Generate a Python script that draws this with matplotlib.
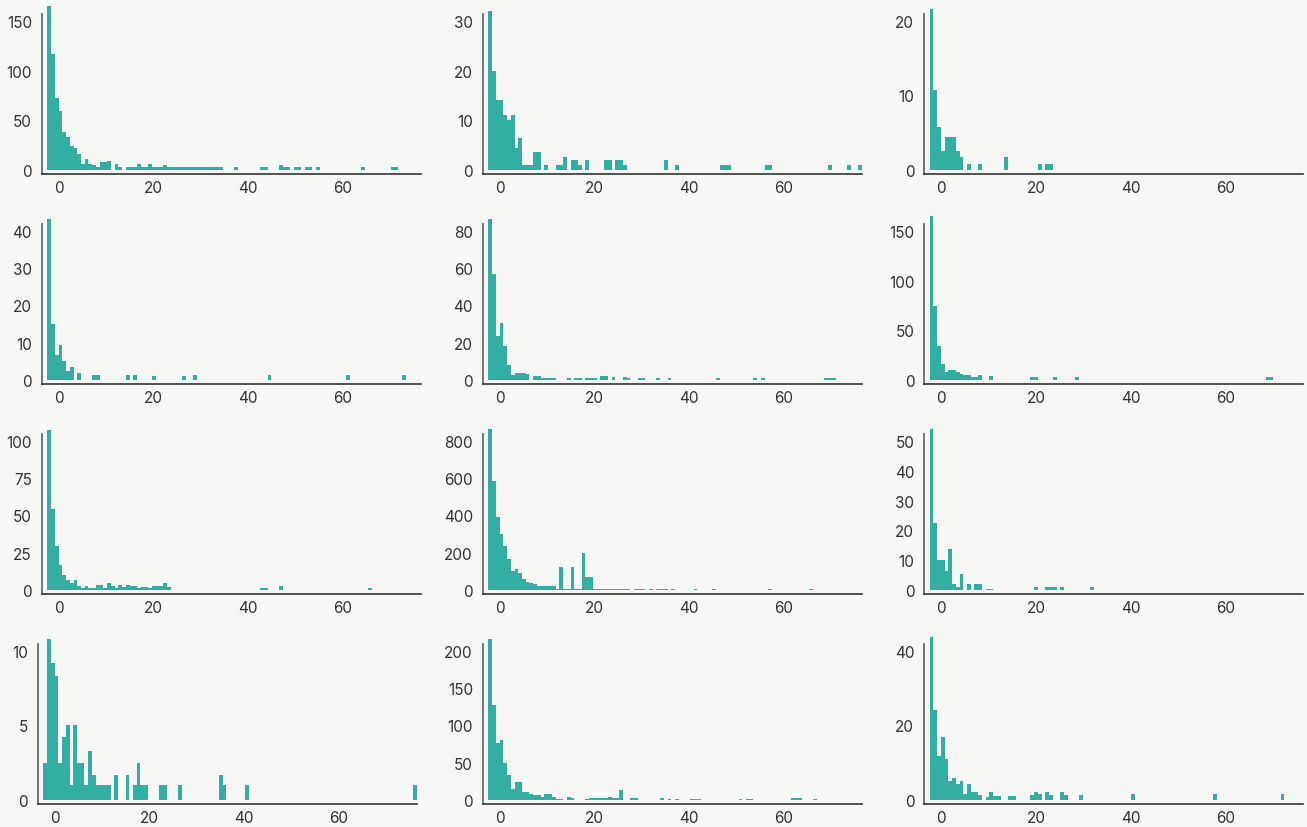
import numpy as np
import matplotlib
matplotlib.use("Agg")
import matplotlib.pyplot as plt

BG = "#f7f7f5"
TEAL = "#33aea3"

# shared histogram bins (100 bins over the pooled range)
edges = np.linspace(-2.45, 76.4, 101)

p1 = [165, 117, 72, 59, 38, 33, 24, 22, 16, 6, 11, 6, 5, 3, 8, 8, 9, 0, 6, 3,
      0, 3, 3, 3, 6, 3, 3, 6, 3, 3, 3, 5, 3, 3, 3, 3, 3, 3, 3, 3,
      3, 3, 3, 3, 3, 3, 3, 0, 0, 0, 3, 0, 0, 0, 0, 0, 0, 3, 3, 0,
      0, 0, 5, 3, 3, 0, 3, 3, 0, 3, 3, 0, 3, 0, 0, 0, 0, 0, 0, 0,
      0, 0, 0, 0, 3, 0, 0, 0, 0, 0, 0, 0, 3, 3, 0, 0, 0, 0, 0, 0]
p2 = [32, 20, 14, 14, 11, 10, 11, 4.4, 6.4, 1, 1, 1, 3.7, 3.7, 0, 1, 0, 0, 1, 1,
      2.7, 0, 2, 2, 1, 0, 2, 0, 0, 0, 0, 2, 2, 0, 2, 2, 1, 0, 0, 0,
      0, 0, 0, 0, 0, 0, 0, 2, 0, 0, 1, 0, 0, 0, 0, 0, 0, 0, 0, 0,
      0, 0, 1, 1, 1, 0, 0, 0, 0, 0, 0, 0, 0, 0, 1, 1, 0, 0, 0, 0,
      0, 0, 0, 0, 0, 0, 0, 0, 0, 0, 0, 1, 0, 0, 0, 0, 1, 0, 0, 1]
p3 = [21.6, 10.8, 5.8, 2.6, 4.4, 4.4, 4.4, 2.6, 1.7, 0, 0.85, 0, 0, 0.85, 0, 0, 0, 0, 0, 0,
      1.7, 0, 0, 0, 0, 0, 0, 0, 0, 0.85, 0, 0.85, 0.85, 0, 0, 0, 0, 0, 0, 0,
      0, 0, 0, 0, 0, 0, 0, 0, 0, 0, 0, 0, 0, 0, 0, 0, 0, 0, 0, 0,
      0, 0, 0, 0, 0, 0, 0, 0, 0, 0, 0, 0, 0, 0, 0, 0, 0, 0, 0, 0,
      0, 0, 0, 0, 0, 0, 0, 0, 0, 0, 0, 0, 0, 0, 0, 0, 0, 0, 0, 0]
p4 = [43.2, 14.9, 6.6, 9.5, 5.2, 2.5, 3.6, 0, 2.0, 0, 0, 0, 1.4, 1.4, 0, 0, 0, 0, 0, 0,
      0, 1.4, 0, 1.4, 0, 0, 0, 0, 1.2, 0, 0, 0, 0, 0, 0, 0, 1.2, 0, 0, 1.4,
      0, 0, 0, 0, 0, 0, 0, 0, 0, 0, 0, 0, 0, 0, 0, 0, 0, 0, 0, 1.4,
      0, 0, 0, 0, 0, 0, 0, 0, 0, 0, 0, 0, 0, 0, 0, 0, 0, 0, 0, 0,
      1.4, 0, 0, 0, 0, 0, 0, 0, 0, 0, 0, 0, 0, 0, 0, 1.4, 0, 0, 0, 0]
p5 = [86.5, 56.8, 23.4, 30.4, 18.0, 8.3, 2.9, 4.0, 4.0, 4.0, 3.4, 0, 2.3, 2.3, 1.3, 1.3, 1.3, 1.3, 0, 0,
      0, 1.3, 0, 1.3, 1.3, 0, 1.3, 1.3, 1.3, 0, 2.3, 2.3, 0, 1.8, 0, 0, 1.8, 1.3, 0, 0,
      1.3, 1.3, 0, 0, 0, 1.3, 0, 0, 1.3, 0, 0, 0, 0, 0, 0, 0, 0, 0, 0, 0,
      0, 1.3, 0, 0, 0, 0, 0, 0, 0, 0, 0, 1.3, 0, 1.3, 0, 0, 0, 0, 0, 0,
      0, 0, 0, 0, 0, 0, 0, 0, 0, 0, 1.3, 1.3, 1.3, 0, 0, 0, 0, 0, 0, 0]
p6 = [164.8, 74.2, 34.7, 16.5, 8.4, 10.4, 10.4, 8.4, 6.4, 5.4, 5.4, 3.4, 3.4, 5.4, 0, 0, 4.4, 0, 0, 0,
      0, 0, 0, 0, 0, 0, 0, 3.4, 3.4, 0, 0, 0, 0, 3.4, 0, 0, 0, 0, 0, 3.4,
      0, 0, 0, 0, 0, 0, 0, 0, 0, 0, 0, 0, 0, 0, 0, 0, 0, 0, 0, 0,
      0, 0, 0, 0, 0, 0, 0, 0, 0, 0, 0, 0, 0, 0, 0, 0, 0, 0, 0, 0,
      0, 0, 0, 0, 0, 0, 0, 0, 0, 0, 3.4, 3.4, 0, 0, 0, 0, 0, 0, 0, 0]
p7 = [107.4, 54.2, 29.2, 17.1, 10.3, 7.0, 4.9, 7.0, 2.9, 1.6, 2.9, 1.6, 1.6, 3.6, 3.6, 1.6, 4.9, 2.9, 1.6, 3.6,
      2.2, 3.6, 2.9, 2.9, 1.6, 2.2, 2.2, 1.6, 2.9, 2.9, 2.9, 4.9, 2.2, 0, 0, 0, 0, 0, 0, 0,
      0, 0, 0, 0, 0, 0, 0, 0, 0, 0, 0, 0, 0, 0, 0, 0, 0, 1.6, 1.6, 0,
      0, 0, 2.9, 0, 0, 0, 0, 0, 0, 0, 0, 0, 0, 0, 0, 0, 0, 0, 0, 0,
      0, 0, 0, 0, 0, 0, 1.6, 0, 0, 0, 0, 0, 0, 0, 0, 0, 0, 0, 0, 0]
p8 = [865, 584, 390, 298, 234, 165, 104, 115, 93.5, 61, 45, 39.6, 34, 23.4, 23.4, 23.4, 23.4, 23.4, 7.2, 126,
      7.2, 7.2, 126, 7.2, 7.2, 196, 72, 72, 7.2, 7.2, 7.2, 7.2, 7.2, 7.2, 7.2, 7.2, 7.2, 7.2, 0, 7.2,
      7.2, 7.2, 2, 7.2, 2, 7.2, 7.2, 7.2, 0, 3, 0, 0, 0, 0, 0, 3, 0, 0, 0, 0,
      3, 0, 0, 0, 0, 0, 0, 0, 0, 0, 0, 0, 0, 0, 0, 3, 0, 0, 0, 0,
      0, 0, 0, 0, 0, 0, 3, 0, 0, 0, 0, 0, 0, 0, 0, 0, 0, 0, 0, 0]
p9 = [54, 22.4, 9.9, 9.9, 6.5, 13.6, 2.1, 1.1, 5.5, 0, 2.1, 0, 2.1, 2.1, 0, 0.45, 0.45, 0, 0, 0,
      0, 0, 0, 0, 0, 0, 0, 0, 1.1, 0, 0, 1.1, 1.1, 1.1, 0, 1.1, 0, 0, 0, 0,
      0, 0, 0, 1.1, 0, 0, 0, 0, 0, 0, 0, 0, 0, 0, 0, 0, 0, 0, 0, 0,
      0, 0, 0, 0, 0, 0, 0, 0, 0, 0, 0, 0, 0, 0, 0, 0, 0, 0, 0, 0,
      0, 0, 0, 0, 0, 0, 0, 0, 0, 0, 0, 0, 0, 0, 0, 0, 0, 0, 0, 0]
p10 = [2.5, 10.8, 9.2, 8.3, 2.5, 4.25, 5.0, 1.0, 5.0, 2.5, 2.5, 1.0, 3.3, 1.65, 1.0, 1.0, 1.0, 1.0, 0, 1.65,
       0, 0, 1.65, 0, 1.0, 2.5, 1.0, 1.0, 0, 0, 0, 1.0, 1.0, 0, 0, 0, 1.0, 0, 0, 0,
       0, 0, 0, 0, 0, 0, 0, 1.65, 1.0, 0, 0, 0, 0, 0, 1.0, 0, 0, 0, 0, 0,
       0, 0, 0, 0, 0, 0, 0, 0, 0, 0, 0, 0, 0, 0, 0, 0, 0, 0, 0, 0,
       0, 0, 0, 0, 0, 0, 0, 0, 0, 0, 0, 0, 0, 0, 0, 0, 0, 0, 0, 1.0]
p11 = [216, 128, 77, 81, 50, 33, 15, 24.7, 24.7, 11.2, 11.2, 8.5, 7.2, 7.2, 4.5, 8.5, 8.5, 4.5, 1.8, 1.8,
       0, 4.5, 3.1, 0, 0, 0, 1.8, 3.1, 3.1, 3.1, 3.1, 3.1, 4.5, 3.1, 3.1, 13.9, 0, 0, 3.1, 3.1,
       0, 0, 0, 0, 0, 0, 3.1, 0, 1.8, 0, 1.8, 0, 0, 0, 1.8, 1.8, 1.8, 0, 0, 0,
       0, 0, 0, 0, 0, 0, 0, 1.8, 0, 1.8, 1.8, 0, 0, 0, 0, 0, 0, 0, 0, 0,
       0, 3.1, 3.1, 3.1, 0, 0, 0, 1.8, 0, 0, 0, 0, 0, 0, 0, 0, 0, 0, 0, 0]
p12 = [43.8, 24.1, 11.9, 16.8, 10.9, 5.2, 6.0, 4.4, 5.2, 1.7, 4.4, 2.2, 2.2, 1.4, 0, 0.9, 2.2, 1.2, 1.2, 0,
       0, 1.2, 1.2, 0, 0, 0, 0, 1.4, 2.2, 1.7, 0, 2.2, 1.4, 0, 0, 2.2, 1.4, 0, 0, 0,
       1.4, 0, 0, 0, 0, 0, 0, 0, 0, 0, 0, 0, 0, 0, 1.7, 0, 0, 0, 0, 0,
       0, 0, 0, 0, 0, 0, 0, 0, 0, 0, 0, 0, 0, 0, 0, 0, 1.7, 0, 0, 0,
       0, 0, 0, 0, 0, 0, 0, 0, 0, 0, 0, 0, 0, 0, 1.7, 0, 0, 0, 0, 0]

panels = [p1, p2, p3, p4, p5, p6, p7, p8, p9, p10, p11, p12]
y_top = [150, 30, 20, 40, 80, 150, 100, 800, 50, 10, 200, 40]
y_step = [50, 10, 10, 10, 20, 50, 25, 200, 10, 5, 50, 20]
x_ticks = [0, 20, 40, 60]

W, H = 1307, 828
col_left = [41.7, 482.7, 924.0]
row_top = [15, 225, 435, 645]
AX_W, AX_H = 379, 160

plt.rcParams['font.family'] = ['Inter', 'DejaVu Sans']
fig = plt.figure(figsize=(W / 100, H / 100), dpi=100, facecolor=BG)

for i, counts in enumerate(panels):
    r, c = divmod(i, 3)
    left = col_left[c] - (4 if i == 9 else 0)
    ax = fig.add_axes([left / W, 1 - (row_top[r] + AX_H) / H, AX_W / W, AX_H / H])
    ax.set_facecolor(BG)
    ax.hist(edges[:-1], bins=edges, weights=counts, color=TEAL,
            linewidth=0, clip_on=False)
    T = y_top[i]
    ax.set_ylim(-0.027 * T, 1.047 * T)
    ax.set_yticks(np.arange(0, T + 1, y_step[i]))
    ax.set_xlim(-3.65, 76.4)
    ax.set_xticks(x_ticks)
    for s in ("top", "right"):
        ax.spines[s].set_visible(False)
    ax.spines["left"].set_color("#6a6a6a")
    ax.spines["left"].set_linewidth(1.3)
    ax.spines["bottom"].set_color("#333333")
    ax.spines["bottom"].set_linewidth(1.2)
    ax.tick_params(length=0, labelsize=11, colors="#333333")
    ax.tick_params(axis="x", pad=4)
    ax.tick_params(axis="y", pad=7)

fig.savefig("out.png", dpi=100, facecolor=BG)
